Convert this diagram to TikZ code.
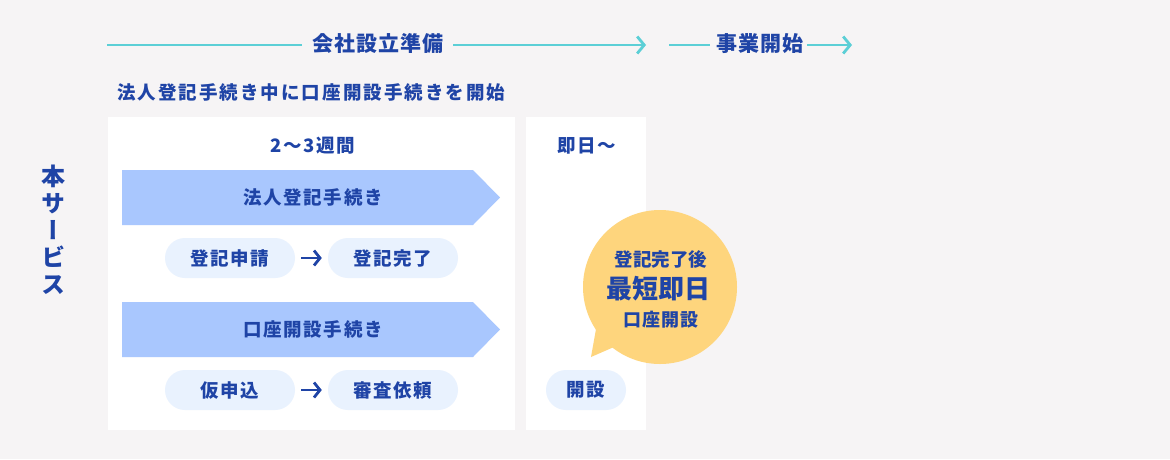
\documentclass[tikz,border=0pt]{standalone}
\usepackage{fontspec}
\setmainfont{Noto Sans CJK JP}
\usetikzlibrary{arrows.meta}
\definecolor{bgc}{HTML}{F6F4F5}
\definecolor{tealc}{HTML}{5CCFD6}
\definecolor{bluet}{HTML}{1F44A6}
\definecolor{bannerc}{HTML}{A9C7FE}
\definecolor{pillc}{HTML}{E9F2FE}
\definecolor{bubblec}{HTML}{FED57D}
\newcommand{\fsl}[2]{\fontsize{#1}{#1}\selectfont\addfontfeature{LetterSpace=#2}}
\newcommand{\lbl}{\bfseries\fsl{18.5}{9}}
\tikzset{
  txt/.style={text=bluet, inner sep=0pt},
  tealline/.style={draw=tealc, line width=2.8pt},
  tealarrow/.style={tealline, -{Straight Barb[length=7pt,width=17pt,line width=2.8pt]}},
  pill/.style={fill=pillc, rounded corners=20pt, minimum height=40pt, text=bluet, font=\lbl, inner sep=0pt},
  darkarrow/.style={draw=bluet, line width=2.8pt, -{Straight Barb[length=6pt,width=15pt,line width=2.8pt]}},
  panel/.style={fill=white, draw=none},
  banner/.style={fill=bannerc, draw=none},
}
\begin{document}
\begin{tikzpicture}[x=1pt,y=-1pt]
\useasboundingbox[fill=bgc] (0,0) rectangle (1170,459);
% top timeline
\node[txt, font=\bfseries\fsl{21}{5}] (prep) at (378,44) {会社設立準備};
\coordinate (p1) at (107,45);
\coordinate (p2) at (646,45);
\coordinate (p1e) at (302,45);
\coordinate (p2s) at (453,45);
\draw[tealline] (p1) -- (p1e);
\draw[tealarrow] (p2s) -- (p2);
\node[txt, font=\bfseries\fsl{21}{5}] (start) at (760,44) {事業開始};
\coordinate (s1) at (669,45);
\coordinate (s1e) at (710,45);
\coordinate (s2s) at (807,45);
\coordinate (s2) at (852,45);
\draw[tealline] (s1) -- (s1e);
\draw[tealarrow] (s2s) -- (s2);
% subtitle
\node[txt, font=\bfseries\fsl{18.5}{11}, anchor=west] (sub) at (117,92) {法人登記手続き中に口座開設手続きを開始};
% vertical label
\node[txt, font=\bfseries\fontsize{24}{27}\selectfont\addfontfeature{RawFeature=+vert}, align=center] (svc) at (53,230) {本\\サ\\ー\\ビ\\ス};
% panels
\path[panel] (108,117) rectangle (515,430);
\path[panel] (526,117) rectangle (646,430);
\node[txt, font=\lbl] (wk) at (313,146) {2〜3週間};
\node[txt, font=\lbl] (sd) at (587,146) {即日〜};
% banners
\path[banner] (122,170) -- (473,170) -- (500,197.5) -- (473,225) -- (122,225) -- cycle;
\node[txt, font=\lbl] (b1) at (313,197) {法人登記手続き};
\path[banner] (122,302) -- (473,302) -- (500,329.5) -- (473,357) -- (122,357) -- cycle;
\node[txt, font=\lbl] (b2) at (313,329) {口座開設手続き};
% pills
\node[pill, minimum width=130pt] (r1) at (230,258) {登記申請};
\node[pill, minimum width=130pt] (r2) at (393,258) {登記完了};
\draw[darkarrow] ([xshift=6pt]r1.east) -- ([xshift=-6pt]r2.west);
\node[pill, minimum width=130pt] (a1) at (230,390) {仮申込};
\node[pill, minimum width=130pt] (a2) at (393,390) {審査依頼};
\draw[darkarrow] ([xshift=6pt]a1.east) -- ([xshift=-6pt]a2.west);
\node[pill, minimum width=80pt] (op) at (586,390) {開設};
% bubble
\fill[bubblec] (660,287) circle (77);
\fill[bubblec] (598,318) -- (591,357) -- (630,340) -- cycle;
\node[txt, font=\bfseries\fsl{18.5}{0}] (q1) at (661,259) {登記完了後};
\node[txt, font=\bfseries\fsl{26}{0}] (q2) at (658,289) {最短即日};
\node[txt, font=\bfseries\fsl{18}{5}] (q3) at (661,320) {口座開設};
\end{tikzpicture}
\end{document}
